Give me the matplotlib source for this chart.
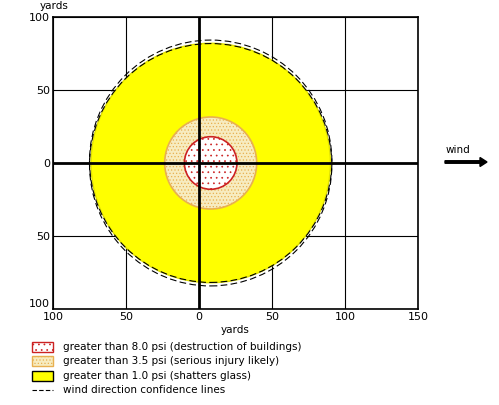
import matplotlib
matplotlib.use("Agg")
import matplotlib.pyplot as plt
from matplotlib.patches import Circle, Rectangle
from matplotlib.lines import Line2D

xticks = [-100, -50, 0, 50, 100, 150]
yticks = [-100, -50, 0, 50, 100]
center = (8, 0)
r_glass, r_injury, r_build = 82, 31.5, 18
conf_offset = 1.2
conf_r = 83
labels = ["greater than 8.0 psi (destruction of buildings)",
          "greater than 3.5 psi (serious injury likely)",
          "greater than 1.0 psi (shatters glass)",
          "wind direction confidence lines"]

plt.rcParams['font.family'] = 'DejaVu Sans'
plt.rcParams['hatch.linewidth'] = 0.5
fig = plt.figure(figsize=(4.99, 4.05), dpi=100)
W, H = 499, 405
ax = fig.add_axes([53/W, 1-309/H, (418-53)/W, (309-17)/H])
ax.set_xlim(-100, 150); ax.set_ylim(-100, 100)
for v in xticks: ax.axvline(v, color='black', lw=0.8, zorder=1)
for v in yticks: ax.axhline(v, color='black', lw=0.8, zorder=1)
ax.add_patch(Circle(center, r_glass, facecolor='#ffff00', edgecolor='#e0e000', lw=1, zorder=2))
ax.add_patch(Circle(center, r_injury, facecolor='#f7ecc0', edgecolor='#e8b050', hatch='.....', lw=1.2, zorder=3))
ax.add_patch(Circle(center, r_build, facecolor='white', edgecolor='#cc2222', hatch='...', lw=1.2, zorder=4))
for s in (1, -1):
    ax.add_patch(Circle((center[0], s*conf_offset), conf_r, fill=False, edgecolor='black', ls=(0, (6, 3)), lw=0.8, zorder=5))
ax.axvline(0, color='black', lw=2, zorder=6)
ax.axhline(0, color='black', lw=2, zorder=6)
ax.set_xticks(xticks); ax.set_yticks(yticks)
ax.set_xticklabels([str(abs(v)) for v in xticks], fontsize=8)
ax.set_yticklabels([str(abs(v)) for v in yticks], fontsize=8)
ax.get_yticklabels()[0].set_va('bottom')
ax.tick_params(length=0, pad=2)
for sp in ax.spines.values(): sp.set_linewidth(1.2)
ax.set_xlabel('yards', fontsize=7.5, labelpad=2)
fig.text(40/W, 1-6/H, 'yards', fontsize=7.5, va='center')
fig.text(458/W, 1-150/H, 'wind', fontsize=7.5, ha='center', va='center')
fig.add_artist(matplotlib.patches.FancyArrow(445/W, 1-162/H, 35/W, 0, width=2.5/H, head_width=9/H, head_length=7/W, color='black', transform=fig.transFigure))

ys = [347, 361, 376, 390]
for i, (y, lab) in enumerate(zip(ys, labels)):
    if i == 0:
        fig.add_artist(Rectangle((32/W, 1-(y+5)/H), 21/W, 10/H, facecolor='white', edgecolor='#cc2222', hatch='...', lw=1, transform=fig.transFigure))
    elif i == 1:
        fig.add_artist(Rectangle((32/W, 1-(y+5)/H), 21/W, 10/H, facecolor='#f7ecc0', edgecolor='#e8b050', hatch='.....', lw=1, transform=fig.transFigure))
    elif i == 2:
        fig.add_artist(Rectangle((32/W, 1-(y+5)/H), 21/W, 10/H, facecolor='#ffff00', edgecolor='black', lw=1, transform=fig.transFigure))
    else:
        fig.add_artist(Line2D([32/W, 53/W], [1-y/H, 1-y/H], color='black', ls=(0, (4, 2)), lw=0.8, transform=fig.transFigure))
    fig.text(63/W, 1-y/H, lab, fontsize=7.5, va='center')
fig.savefig('out.png', dpi=100)
